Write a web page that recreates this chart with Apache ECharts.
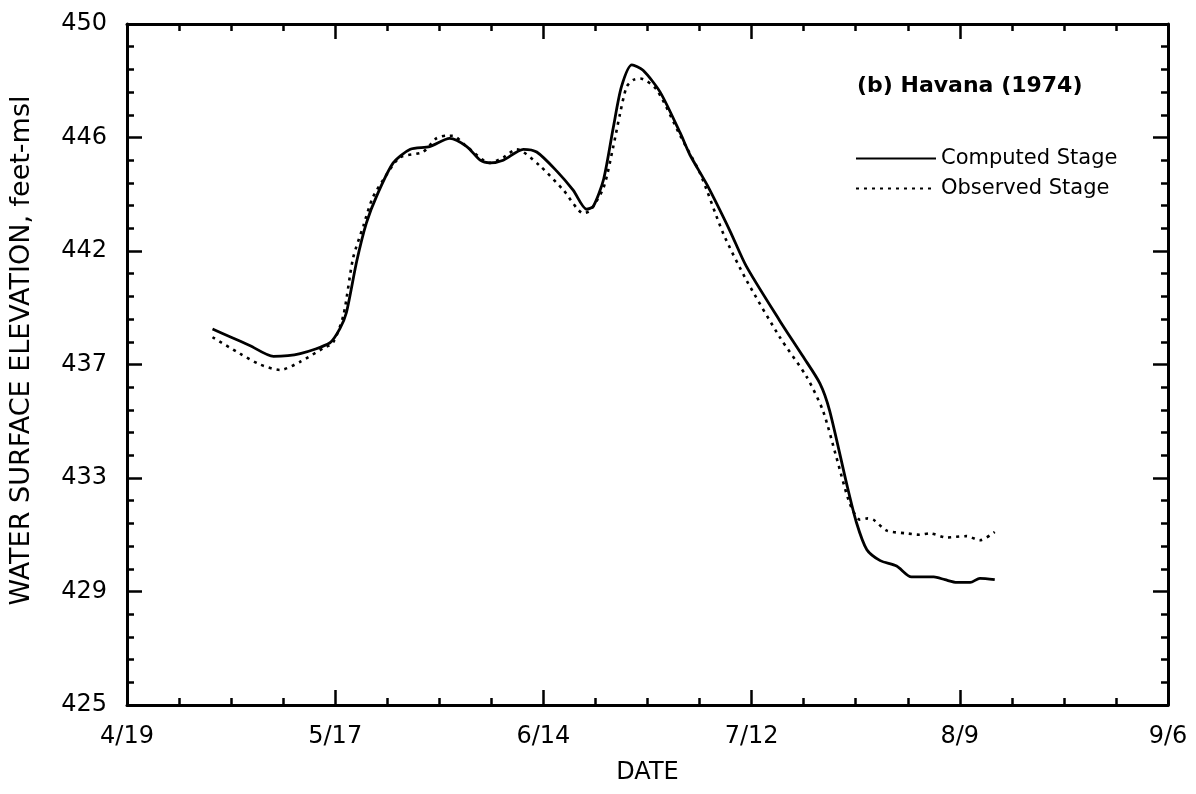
<!DOCTYPE html>
<html>
<head>
<meta charset="utf-8">
<script src="https://cdn.jsdelivr.net/npm/echarts@6/dist/echarts.min.js"></script>
<style>
  html, body { margin: 0; padding: 0; background: #ffffff; }
  #chart { width: 1196px; height: 794px; }
</style>
</head>
<body>
<div id="chart"></div>
<script>
// Tick labels
const xTickLabels = ['4/19', '5/17', '6/14', '7/12', '8/9', '9/6'];
const yTickLabels = ['425', '429', '433', '437', '442', '446', '450'];

// Days counted from 4/19 (1974)
const computedDays = [11.5, 14, 16.5, 19.7, 23.3, 27.3, 28.6, 29.5, 30.9, 32.2, 33.6, 35.8, 38.1, 40.7, 43.4, 45.7, 47.5, 48.8, 50.6, 53.3, 55.1, 57.8, 60.0, 61.8, 62.7, 64.1, 65.4, 66.5, 67.9, 69.4, 71.7, 74.4, 75.7, 78.0, 81.1, 83.3, 87.8, 90.9, 93.2, 94.5, 96.8, 98.1, 99.5, 101.3, 103.5, 105.5, 108.5, 110.0, 111.6, 113.4, 114.7, 116.7];
const computedStage = [438.8, 438.5, 438.2, 437.8, 437.9, 438.3, 438.8, 439.4, 441.3, 442.7, 443.7, 444.9, 445.4, 445.5, 445.8, 445.5, 445.0, 444.9, 445.0, 445.4, 445.3, 444.6, 443.9, 443.2, 443.3, 444.3, 446.2, 447.7, 448.5, 448.3, 447.5, 446.0, 445.2, 444.1, 442.4, 441.1, 439.1, 437.8, 436.8, 435.8, 433.1, 431.7, 430.7, 430.3, 430.1, 429.7, 429.7, 429.6, 429.5, 429.5, 429.65, 429.6];

const observedDays = [11.5, 15.2, 17.9, 20.6, 23.3, 26.4, 27.7, 29.1, 30.4, 31.8, 33.0, 34.5, 36.7, 39.8, 41.6, 43.0, 43.8, 45.7, 48.8, 50.6, 52.4, 55.5, 58.7, 61.4, 62.3, 64.1, 65.4, 66.3, 67.2, 68.1, 69.0, 71.2, 74.4, 77.1, 80.2, 83.3, 87.8, 91.4, 93.6, 95.4, 97.2, 98.6, 99.6, 100.4, 102.2, 104.9, 106.6, 108.0, 110.2, 112.9, 114.7, 116.7];
const observedStage = [438.5, 437.9, 437.5, 437.3, 437.6, 438.1, 438.3, 439.3, 441.4, 442.6, 443.6, 444.3, 445.1, 445.3, 445.8, 445.9, 445.9, 445.5, 444.9, 445.1, 445.4, 444.8, 443.9, 443.05, 443.15, 444.0, 445.5, 446.7, 447.7, 447.95, 448.0, 447.6, 445.9, 444.5, 442.3, 440.6, 438.5, 437.05, 435.8, 434.1, 432.4, 431.8, 431.85, 431.8, 431.4, 431.3, 431.25, 431.3, 431.15, 431.2, 431.05, 431.35];

const zip = (a, b) => a.map((v, i) => [v, b[i]]);
const FONT = 'DejaVu Sans';
const Y_MIN = 425, Y_MAX = 450, Y_INT = 25 / 6;
const X_INT = 28;

const baseAxisLine = { show: true, onZero: false, lineStyle: { color: '#000', width: 3 } };
const baseTick = { show: true, inside: true, length: 15, lineStyle: { color: '#000', width: 2.5 } };
const baseMinor = { show: true, length: 7, lineStyle: { color: '#000', width: 2.5 } };

const chart = echarts.init(document.getElementById('chart'), null, { renderer: 'canvas' });
chart.setOption({
  backgroundColor: '#ffffff',
  animation: false,
  title: {
    text: '(b) Havana (1974)',
    left: 852, top: 70,
    textStyle: { fontFamily: FONT, fontSize: 22, fontWeight: 'bold', color: '#000' }
  },
  legend: {
    orient: 'vertical',
    left: 850, top: 143,
    itemWidth: 80, itemHeight: 20, itemGap: 9,
    itemStyle: { opacity: 0 },
    textStyle: { fontFamily: FONT, fontSize: 21, color: '#000', padding: [0, 0, 0, 0] },
    data: ['Computed Stage', 'Observed Stage']
  },
  grid: { left: 127, right: 28, top: 24, bottom: 89, containLabel: false },
  xAxis: [{
    type: 'value', position: 'bottom',
    min: 0, max: 140, interval: X_INT,
    name: 'DATE', nameLocation: 'middle', nameGap: 56,
    nameTextStyle: { fontFamily: FONT, fontSize: 24, color: '#000' },
    axisLine: baseAxisLine, axisTick: baseTick,
    minorTick: Object.assign({ splitNumber: 4 }, baseMinor),
    splitLine: { show: false },
    axisLabel: {
      margin: 20, fontFamily: FONT, fontSize: 24, color: '#000',
      formatter: v => xTickLabels[Math.round(v / X_INT)]
    }
  }, {
    type: 'value', position: 'top',
    min: 0, max: 140, interval: X_INT,
    axisLine: baseAxisLine, axisTick: baseTick,
    minorTick: Object.assign({ splitNumber: 4 }, baseMinor),
    splitLine: { show: false }, axisLabel: { show: false }
  }],
  yAxis: [{
    type: 'value', position: 'left',
    min: Y_MIN, max: Y_MAX, interval: Y_INT,
    name: 'WATER SURFACE ELEVATION, feet-msl', nameLocation: 'middle', nameGap: 92,
    nameTextStyle: { fontFamily: FONT, fontSize: 27, color: '#000', padding: [0, 0, 0, 28] },
    axisLine: baseAxisLine, axisTick: baseTick,
    minorTick: Object.assign({ splitNumber: 5 }, baseMinor),
    splitLine: { show: false },
    axisLabel: {
      margin: 20, fontFamily: FONT, fontSize: 24, color: '#000',
      formatter: v => yTickLabels[Math.round((v - Y_MIN) / Y_INT)]
    }
  }, {
    type: 'value', position: 'right',
    min: Y_MIN, max: Y_MAX, interval: Y_INT,
    axisLine: baseAxisLine, axisTick: baseTick,
    minorTick: Object.assign({ splitNumber: 5 }, baseMinor),
    splitLine: { show: false }, axisLabel: { show: false }
  }],
  series: [{
    name: 'Computed Stage', type: 'line',
    xAxisIndex: 0, yAxisIndex: 0,
    data: zip(computedDays, computedStage),
    symbol: 'none', smooth: 0.25,
    lineStyle: { color: '#000', width: 2.8, type: 'solid' },
    itemStyle: { color: '#000' }
  }, {
    name: 'Observed Stage', type: 'line',
    xAxisIndex: 0, yAxisIndex: 0,
    data: zip(observedDays, observedStage),
    symbol: 'none', smooth: 0.25,
    lineStyle: { color: '#000', width: 2.6, type: [3, 5] },
    itemStyle: { color: '#000' }
  }]
});
</script>
</body>
</html>
